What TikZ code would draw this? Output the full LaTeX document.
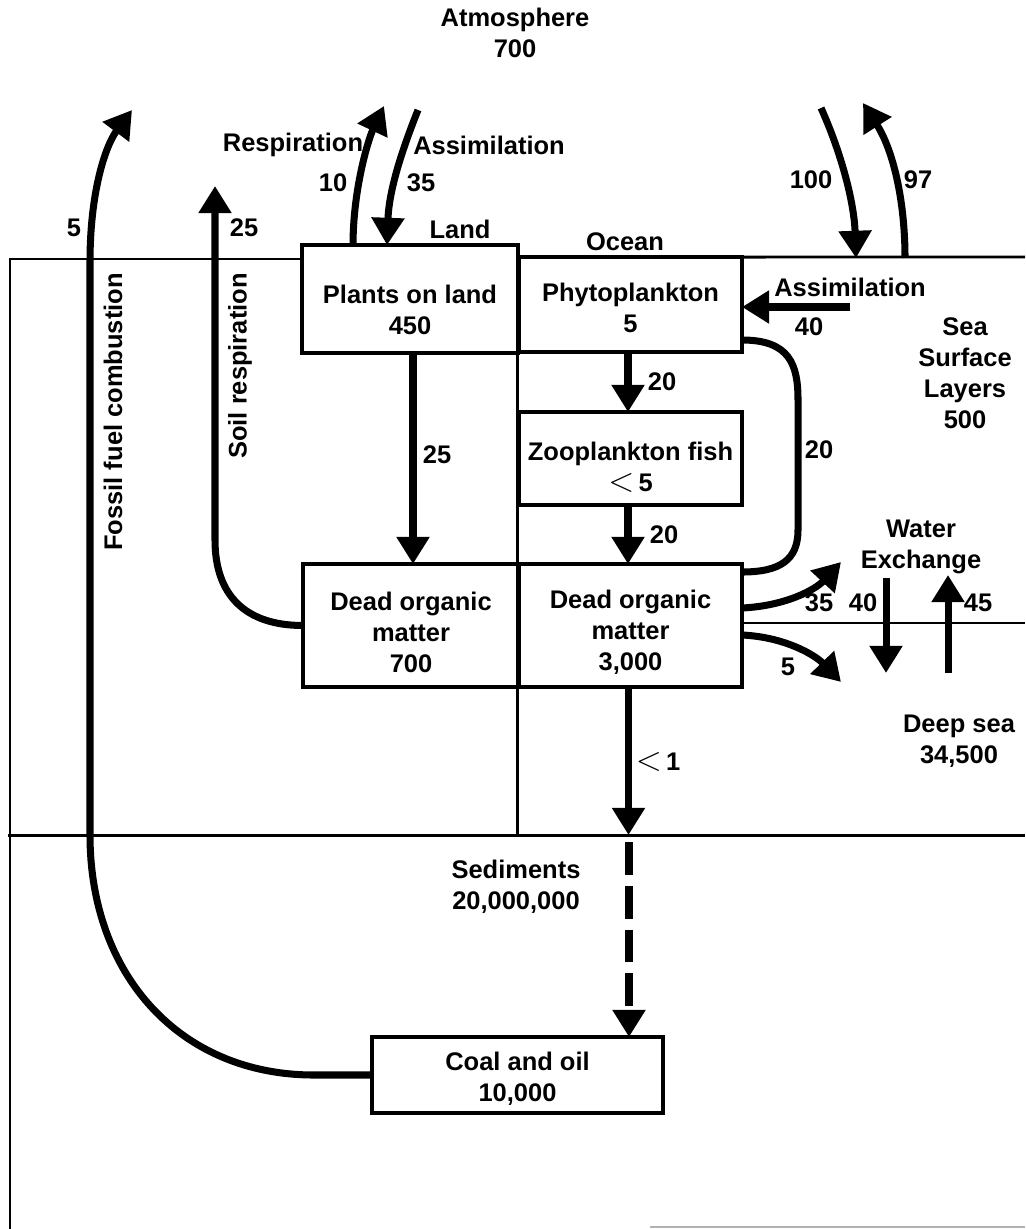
\documentclass[tikz,border=0pt]{standalone}
\usepackage{fontspec}
\setmainfont{Liberation Sans}
\usetikzlibrary{arrows.meta,calc}
\newcommand{\lessmark}{\scalebox{1.35}{$<$}}
\begin{document}
\begin{tikzpicture}[x=0.02cm,y=-0.02cm,
  font=\bfseries\fontsize{14.5}{17.6}\selectfont,
  box/.style={draw, line width=1.8pt, inner sep=0pt, outer sep=0pt},
  flow/.style={line width=4pt, -{Triangle[width=18pt,length=15.5pt]}},
  plainflow/.style={line width=4pt},
  frame/.style={line width=1.7pt},
  lbl/.style={inner sep=0pt, align=center}]
\useasboundingbox (0,0) rectangle (1025,1229);

% boxes
\node[box, minimum width=4.32cm, minimum height=2.16cm] (plants) at (410,299) {};
\node[box, minimum width=4.46cm, minimum height=1.9cm] (phyto) at (630.5,304.5) {};
\node[box, minimum width=4.46cm, minimum height=1.86cm] (zoo) at (630.5,458.5) {};
\node[box, minimum width=4.32cm, minimum height=2.46cm] (deadL) at (411,625.5) {};
\node[box, minimum width=4.46cm, minimum height=2.46cm] (deadO) at (630.5,625.5) {};
\node[box, minimum width=5.82cm, minimum height=1.52cm] (coal) at (517.5,1075) {};

% box texts
\node[lbl] (plantsT) at (410,309.5) {Plants on land\\450};
\node[lbl] (phytoT) at (630.5,308) {Phytoplankton\\5};
\node[lbl] (zooT) at (630.5,467) {Zooplankton fish\\\lessmark\,5};
\node[lbl] (deadLT) at (411,632) {Dead organic\\matter\\700};
\node[lbl] (deadOT) at (630.5,632) {Dead organic\\matter\\3,000};
\node[lbl] (coalT) at (517.5,1079) {Coal and oil\\10,000};

% frame lines
\draw[frame] (10,1229) -- (10,259) -- (plants.west |- 0,259);
\draw[frame] (phyto.north east) -- (1025,257);
\draw[frame] (plants.north east) -- (plants.north east |- 0,835);
\draw[frame] (8,835) -- (1025,835);
\draw[frame] (deadO.east |- 0,623) -- (1025,623);
\draw[gray!60, line width=1.5pt] (650,1227) -- (1025,1227);

% coordinates for free ends and connector ends
\coordinate (resptip) at (384,106);
\coordinate (assimtop) at (418,110);
\coordinate (fossiltip) at (132,110);
\coordinate (soiltip) at (215,186);
\coordinate (o100) at (821,108);
\coordinate (o100end) at (856,258);
\coordinate (o97) at (905,258);
\coordinate (o97tip) at (863,103);
\coordinate (pa) at (850,307);
\coordinate (up35) at (841,562);
\coordinate (dn5) at (841,682);
\coordinate (wdtop) at (886,578);
\coordinate (wdbot) at (886,673);
\coordinate (wubot) at (948,673);
\coordinate (wutop) at (948,575);
\coordinate (sedhit) at (628.5,835);
\coordinate (dashstart) at (629,842);
\coordinate (pd) at ($(plants.south)+(3,0)$);
\coordinate (phd) at ($(phyto.south)+(-2.5,0)$);
\coordinate (zd) at ($(zoo.south)+(-2.5,0)$);
\coordinate (dd) at ($(deadO.south)+(-2,0)$);

% land arrows
\draw[flow] ($(plants.north west)+(51,0)$) .. controls (353,190) and (368,140) .. (resptip);
\draw[flow] (assimtop) .. controls (402,150) and (389,190) .. ($(plants.north west)+(85,0)$);
\draw[flow] (pd) -- (pd |- deadL.north);
\draw[flow] (deadL.west) .. controls (245,625.5) and (215,595) .. (215,540) -- (soiltip);
\draw[flow] (coal.west) -- (314,1075) .. controls (180,1075) and (90,975) .. (90,835) -- (90,262) .. controls (90,190) and (106,145) .. (fossiltip);

% ocean arrows
\draw[flow] (o100) .. controls (840,150) and (854,200) .. (o100end);
\draw[flow] (o97) .. controls (905,200) and (893,150) .. (o97tip);
\draw[flow] (pa) -- (pa -| phyto.east);
\draw[flow] (phd) -- (phd |- zoo.north);
\draw[flow] (zd) -- (zd |- deadO.north);
\draw[plainflow] ($(phyto.east)+(0,35.5)$) .. controls (790,340) and (798,365) .. (798,400) -- (798,530) .. controls (798,560) and (780,572) .. ($(deadO.north east)+(0,8)$);
\draw[flow] ($(deadO.east)+(0,-17.5)$) .. controls (785,606) and (815,590) .. (up35);
\draw[flow] ($(deadO.east)+(0,9.5)$) .. controls (785,637) and (815,655) .. (dn5);
\draw[flow] (wdtop) -- (wdbot);
\draw[flow] (wubot) -- (wutop);
\draw[flow] (dd) -- (sedhit);
\draw[flow, dash pattern=on 18.7pt off 6.2pt] (dashstart) -- (dashstart |- coal.north);

% labels
\node[lbl] (atm) at (515,33) {Atmosphere\\700};
\node[lbl] (lresp) at (293,145) {Respiration};
\node[lbl] (lassim) at (489,145) {Assimilation};
\node[lbl] (l10) at (333,183) {10};
\node[lbl] (l35a) at (421,183) {35};
\node[lbl] (l5a) at (74,228) {5};
\node[lbl] (l25a) at (244,228) {25};
\node[lbl] (lland) at (460,229) {Land};
\node[lbl] (locean) at (625,242) {Ocean};
\node[lbl] (l100) at (811,180) {100};
\node[lbl] (l97) at (918,180) {97};
\node[lbl] (lassim2) at (850,287) {Assimilation};
\node[lbl] (l40a) at (809,327) {40};
\node[lbl] (lsea) at (965,373) {Sea\\Surface\\Layers\\500};
\node[lbl] (l20a) at (662,382) {20};
\node[lbl] (l25b) at (437,455) {25};
\node[lbl] (l20b) at (819,450) {20};
\node[lbl] (l20c) at (664,535) {20};
\node[lbl] (lwater) at (921,547) {Water\\Exchange};
\node[lbl] (l35b) at (819,603) {35};
\node[lbl] (l40b) at (863,603) {40};
\node[lbl] (l45) at (978,603) {45};
\node[lbl] (l5b) at (788,667) {5};
\node[lbl] (ldeep) at (959,741) {Deep sea\\34,500};
\node[lbl] (llt1) at (658,762) {\lessmark\,1};
\node[lbl] (lsed) at (516,887) {Sediments\\20,000,000};
\node[lbl, rotate=90] (lffc) at (113,412) {Fossil fuel combustion};
\node[lbl, rotate=90] (lsoil) at (240,366) {Soil respiration};
\end{tikzpicture}
\end{document}
